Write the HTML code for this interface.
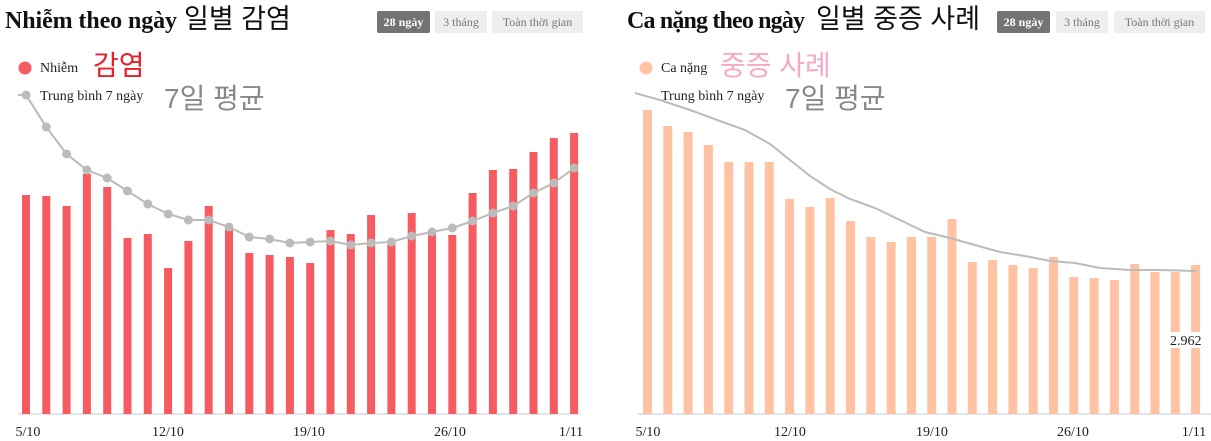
<!DOCTYPE html>
<html><head><meta charset="utf-8"><style>
body{margin:0;background:#fff;width:1211px;height:441px;overflow:hidden}
svg{display:block}
.t{font-family:"Liberation Serif","Noto Sans CJK KR",serif;font-weight:bold;font-size:24px;fill:#111}
.k{font-family:"Liberation Sans","Noto Sans CJK KR",sans-serif;font-weight:normal}
.s{font-family:"Liberation Serif",serif;font-size:14px;fill:#222}
.btn{font-family:"Liberation Serif",serif;font-size:12px}
</style></head><body>
<svg width="1211" height="441" xmlns="http://www.w3.org/2000/svg">
<!-- Left -->
<text x="5" y="28" class="t"><tspan textLength="172">Nhiễm theo ngày</tspan> <tspan class="k" font-size="27" x="184">일별 감염</tspan></text>
<rect x="377" y="11" width="53" height="22" rx="2" fill="#737373"/><text x="403.5" y="26" class="btn" fill="#fff" font-weight="bold" text-anchor="middle">28 ngày</text>
<rect x="435" y="11" width="52" height="22" rx="2" fill="#eee"/><text x="461" y="26" class="btn" fill="#777" text-anchor="middle">3 tháng</text>
<rect x="492" y="11" width="91" height="22" rx="2" fill="#eee"/><text x="537.5" y="26" class="btn" fill="#777" text-anchor="middle">Toàn thời gian</text>
<circle cx="25" cy="68" r="6.5" fill="#f55b5f"/>
<text x="40" y="72" class="s">Nhiễm <tspan class="k" font-size="28" fill="#e8202b" x="93" y="75">감염</tspan></text>
<text x="40" y="100" class="s">Trung bình 7 ngày<tspan class="k" font-size="28" fill="#888" x="164" y="108">7일 평균</tspan></text>
<line x1="18" y1="414" x2="580" y2="414" stroke="#d7dbe8" stroke-width="1.5"/>
<g id="lb" fill="#f55b5f"></g>
<polyline id="ll" fill="none" stroke="#bbb" stroke-width="2"/>
<g id="ld" fill="#bbb"></g>
<g class="s" font-size="13" text-anchor="middle" fill="#222">
<text x="28" y="436">5/10</text><text x="168" y="436">12/10</text><text x="309" y="436">19/10</text><text x="450" y="436">26/10</text><text x="571" y="436">1/11</text></g>
<!-- Right -->
<text x="627" y="28" class="t"><tspan textLength="178">Ca nặng theo ngày</tspan> <tspan class="k" font-size="27" x="816">일별 중증 사례</tspan></text>
<rect x="997" y="11" width="53" height="22" rx="2" fill="#737373"/><text x="1023.5" y="26" class="btn" fill="#fff" font-weight="bold" text-anchor="middle">28 ngày</text>
<rect x="1056" y="11" width="52" height="22" rx="2" fill="#eee"/><text x="1082" y="26" class="btn" fill="#777" text-anchor="middle">3 tháng</text>
<rect x="1114" y="11" width="91" height="22" rx="2" fill="#eee"/><text x="1159.5" y="26" class="btn" fill="#777" text-anchor="middle">Toàn thời gian</text>
<circle cx="646" cy="68" r="6.5" fill="#ffc3a4"/>
<text x="661" y="72" class="s">Ca nặng <tspan class="k" font-size="28" fill="#f7a8c4" x="720" y="75">중증 사례</tspan></text>
<line x1="1211" y1="414" x2="638" y2="414" stroke="#d7dbe8" stroke-width="1.5"/>
<g id="rb" fill="#ffc3a4"></g>
<text x="661" y="100" class="s">Trung bình 7 ngày<tspan class="k" font-size="28" fill="#888" x="785" y="108">7일 평균</tspan></text>
<polyline fill="none" stroke="#bbb" stroke-width="2" points="635,93 660,100 690,110 720,121 745,130 770,144 790,160 810,176 830,189 850,199 875,208 900,220 925,232 950,238 975,245 1000,252 1025,256 1050,261 1075,263 1100,268 1130,270 1160,270 1196,271"/>
<rect x="1168" y="332" width="38" height="16" fill="#fff"/>
<text x="1170" y="345" class="s" font-size="13">2.962</text>
<g class="s" font-size="13" text-anchor="middle" fill="#222">
<text x="648" y="436">5/10</text><text x="790" y="436">12/10</text><text x="932" y="436">19/10</text><text x="1073" y="436">26/10</text><text x="1194" y="436">1/11</text></g>
</svg>
<script>
var ns="http://www.w3.org/2000/svg";
function r(g,x,y,w,c){var e=document.createElementNS(ns,"rect");e.setAttribute("x",x);e.setAttribute("y",y);e.setAttribute("width",w);e.setAttribute("height",414-y);document.getElementById(g).appendChild(e);}
var L=[195,196,206,174,187,238,234,268,241,206,228,253,255,257,263,230,234,215,244,213,234,235,193,170,169,152,138,133];
var A=[95,127,154,170,178,191,204,214,220,220,227,237,239,243,242,241,245,243,242,236,232,228,221,213,206,193,183,168];
var pts=[];
for(var i=0;i<28;i++){var cx=26+i*20.3;r("lb",cx-4,L[i],8);pts.push(cx+","+A[i]);
var c=document.createElementNS(ns,"circle");c.setAttribute("cx",cx);c.setAttribute("cy",A[i]);c.setAttribute("r",4.5);document.getElementById("ld").appendChild(c);}
document.getElementById("ll").setAttribute("points","18,95 "+pts.join(" "));
var R=[110,126,132,145,162,162,162,199,207,198,221,237,242,237,237,219,262,260,265,268,257,277,278,280,264,272,272,265];
for(var i=0;i<28;i++){var cx=647.5+i*20.3;r("rb",cx-4.5,R[i],9);}
</script>
</body></html>
